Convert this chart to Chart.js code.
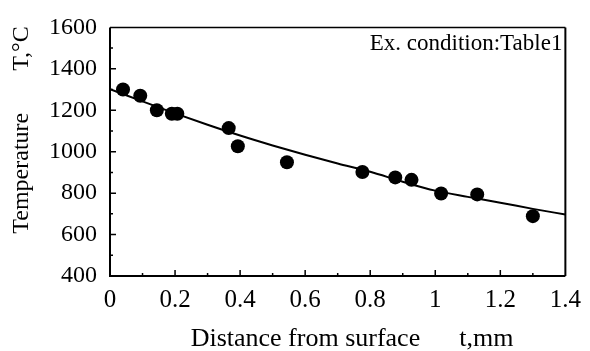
<!DOCTYPE html>
<html>
<head>
<meta charset="utf-8">
<script src="https://cdn.jsdelivr.net/npm/chart.js@4/dist/chart.umd.min.js"></script>
<style>
  html, body { margin: 0; padding: 0; background: #fff; }
  canvas { display: block; }
</style>
</head>
<body>
<canvas id="chart" width="590" height="351"></canvas>
<script>
// Measured points: distance from surface (mm) vs temperature (°C)
const measuredT = [0.04, 0.093, 0.144, 0.19, 0.207, 0.365, 0.393, 0.544, 0.776, 0.877, 0.927, 1.018, 1.129, 1.30];
const measuredTemp = [1300, 1270, 1200, 1183, 1183, 1114, 1026, 949, 902, 876, 864, 798, 794, 689];

// Fitted curve, every 0.1 mm
const curveT = [0, 0.1, 0.2, 0.3, 0.4, 0.5, 0.6, 0.7, 0.8, 0.9, 1.0, 1.1, 1.2, 1.3, 1.4];
const curveTemp = [1302, 1243, 1185, 1130, 1078, 1030, 985, 943, 903, 855, 812, 782, 754, 724, 697];

// Axis ticks
const xTicks = [0, 0.2, 0.4, 0.6, 0.8, 1, 1.2, 1.4];
const yTicks = [400, 600, 800, 1000, 1200, 1400, 1600];

const xTitle = 'Distance from surface      t,mm';
const yTitle = 'Temperature       T,°C';
const note = 'Ex. condition:Table1';

const SERIF = "'Liberation Serif', 'Times New Roman', serif";

// frame, inward ticks, titles and note
const framePlugin = {
  id: 'framePlugin',
  afterDraw(chart) {
    const ctx = chart.ctx;
    const a = chart.chartArea;
    const xs = chart.scales.x;
    const ys = chart.scales.y;
    ctx.save();
    ctx.strokeStyle = '#000';

    // box
    ctx.lineWidth = 1.5;
    ctx.beginPath();
    ctx.moveTo(a.left, a.top);
    ctx.lineTo(a.right, a.top);
    ctx.stroke();
    ctx.lineWidth = 2;
    ctx.beginPath();
    ctx.moveTo(a.right, a.top);
    ctx.lineTo(a.right, a.bottom);
    ctx.moveTo(a.left, a.top);
    ctx.lineTo(a.left, a.bottom);
    ctx.lineTo(a.right, a.bottom);
    ctx.stroke();

    // ticks pointing inside
    ctx.lineWidth = 1.5;
    ctx.beginPath();
    for (let i = 1; i < 14; i++) {
      const px = xs.getPixelForValue(i / 10);
      const len = i % 2 === 0 ? 6 : 3;
      ctx.moveTo(px, a.bottom);
      ctx.lineTo(px, a.bottom - len);
    }
    for (let v = 500; v < 1600; v += 100) {
      const py = ys.getPixelForValue(v);
      const len = v % 200 === 0 ? 6 : 3;
      ctx.moveTo(a.left, py);
      ctx.lineTo(a.left + len, py);
    }
    ctx.stroke();

    ctx.fillStyle = '#000';
    // note in top right
    ctx.font = '23px ' + SERIF;
    ctx.textAlign = 'right';
    ctx.textBaseline = 'alphabetic';
    ctx.fillText(note, a.right - 3, 50);

    // axis titles
    ctx.font = '26px ' + SERIF;
    ctx.textAlign = 'center';
    ctx.fillText(xTitle, 352, 346);

    ctx.font = '24px ' + SERIF;
    ctx.translate(28, 130);
    ctx.rotate(-Math.PI / 2);
    ctx.fillText(yTitle, 0, 0);
    ctx.restore();
  }
};

new Chart(document.getElementById('chart'), {
  type: 'scatter',
  data: {
    datasets: [
      {
        label: 'Measured',
        data: measuredT.map((t, i) => ({ x: t, y: measuredTemp[i] })),
        backgroundColor: '#000',
        borderWidth: 0,
        pointRadius: 7,
        showLine: false
      },
      {
        label: 'Fit',
        data: curveT.map((t, i) => ({ x: t, y: curveTemp[i] })),
        showLine: true,
        borderColor: '#000',
        borderWidth: 2,
        pointRadius: 0,
        cubicInterpolationMode: 'monotone',
        fill: false
      }
    ]
  },
  options: {
    responsive: false,
    animation: false,
    layout: { padding: { top: 16, right: 17, left: 0, bottom: 0 } },
    plugins: {
      legend: { display: false },
      tooltip: { enabled: false }
    },
    scales: {
      x: {
        type: 'linear',
        min: 0,
        max: 1.4,
        afterFit: (s) => { s.height = 75; },
        afterBuildTicks: (s) => { s.ticks = xTicks.map(v => ({ value: v })); },
        grid: { display: false, drawTicks: false },
        border: { display: false },
        ticks: {
          color: '#000',
          padding: 9,
          maxRotation: 0,
          font: { family: SERIF, size: 25 },
          callback: (v) => String(Number(v.toFixed(1)))
        }
      },
      y: {
        min: 400,
        max: 1600,
        afterFit: (s) => { s.width = 110; },
        afterBuildTicks: (s) => { s.ticks = yTicks.map(v => ({ value: v })); },
        grid: { display: false, drawTicks: false },
        border: { display: false },
        ticks: {
          color: '#000',
          padding: 13,
          font: { family: SERIF, size: 24 },
          callback: (v) => String(v)
        }
      }
    }
  },
  plugins: [framePlugin]
});
</script>
</body>
</html>
